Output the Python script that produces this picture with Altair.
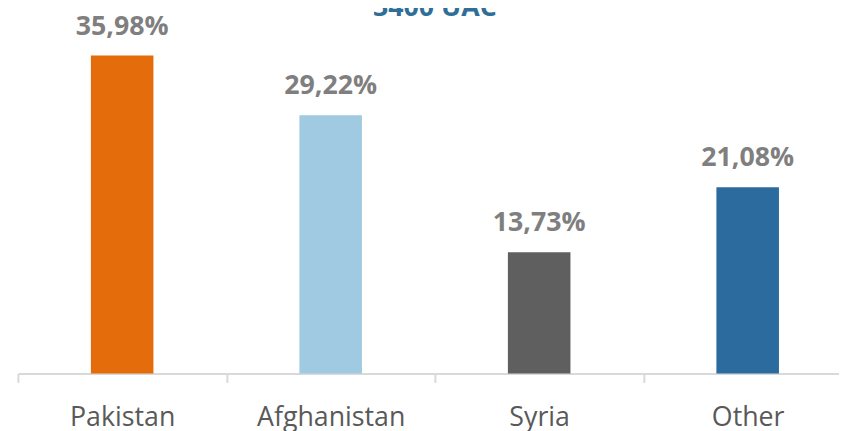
import altair as alt
import pandas as pd

countries = ["Pakistan", "Afghanistan", "Syria", "Other"]
values = [35.98, 29.22, 13.73, 21.08]
value_labels = ["35,98%", "29,22%", "13,73%", "21,08%"]
bar_colors = ["#e46c0a", "#9fcae2", "#5f5f5f", "#2b6b9e"]
title_text = ["3400 UAC"]

df = pd.DataFrame({"country": countries, "value": values, "label": value_labels})

FONT = "Open Sans"
STEP = 829 / 3.938

x = alt.X(
    "country:N",
    sort=None,
    scale=alt.Scale(paddingInner=0.7, paddingOuter=0.319, align=0.5486),
    axis=alt.Axis(
        title=None,
        labelAngle=0,
        grid=False,
        domainColor="#d9d9d9",
        domainWidth=2,
        tickColor="#d9d9d9",
        tickWidth=2,
        tickSize=9,
        tickOffset=-STEP / 2,
        labelOffset=STEP / 2,
        labelFont=FONT,
        labelFontSize=27,
        labelColor="#595959",
        labelPadding=43,
        labelBaseline="alphabetic",
    ),
)
y = alt.Y("value:Q", scale=alt.Scale(domain=[0, 40]), axis=None)

base = alt.Chart(df)

bars = base.mark_bar().encode(
    x=x,
    y=y,
    color=alt.Color("country:N", sort=None,
                    scale=alt.Scale(domain=countries, range=bar_colors),
                    legend=None),
)

labels = base.mark_text(
    dy=-21, baseline="alphabetic", align="center",
    font=FONT, fontSize=27, fontWeight="bold", color="#7f7f7f",
).encode(x=x, y=y, text="label:N")

title = alt.Chart(pd.DataFrame({"t": title_text})).mark_text(
    baseline="alphabetic", align="center",
    font=FONT, fontSize=27, fontWeight="bold", color="#2f6f97",
).encode(text="t:N", x=alt.value(421), y=alt.value(-4))

chart = (
    alt.layer(bars, labels, title)
    .properties(
        width=829,
        height=357,
        autosize=alt.AutoSizeParams(type="none"),
        padding={"left": 10, "top": 10, "right": 0, "bottom": 56},
        background="white",
    )
    .configure_view(stroke=None)
)

chart.save("out.html", embed_options={"renderer": "svg", "actions": False})
